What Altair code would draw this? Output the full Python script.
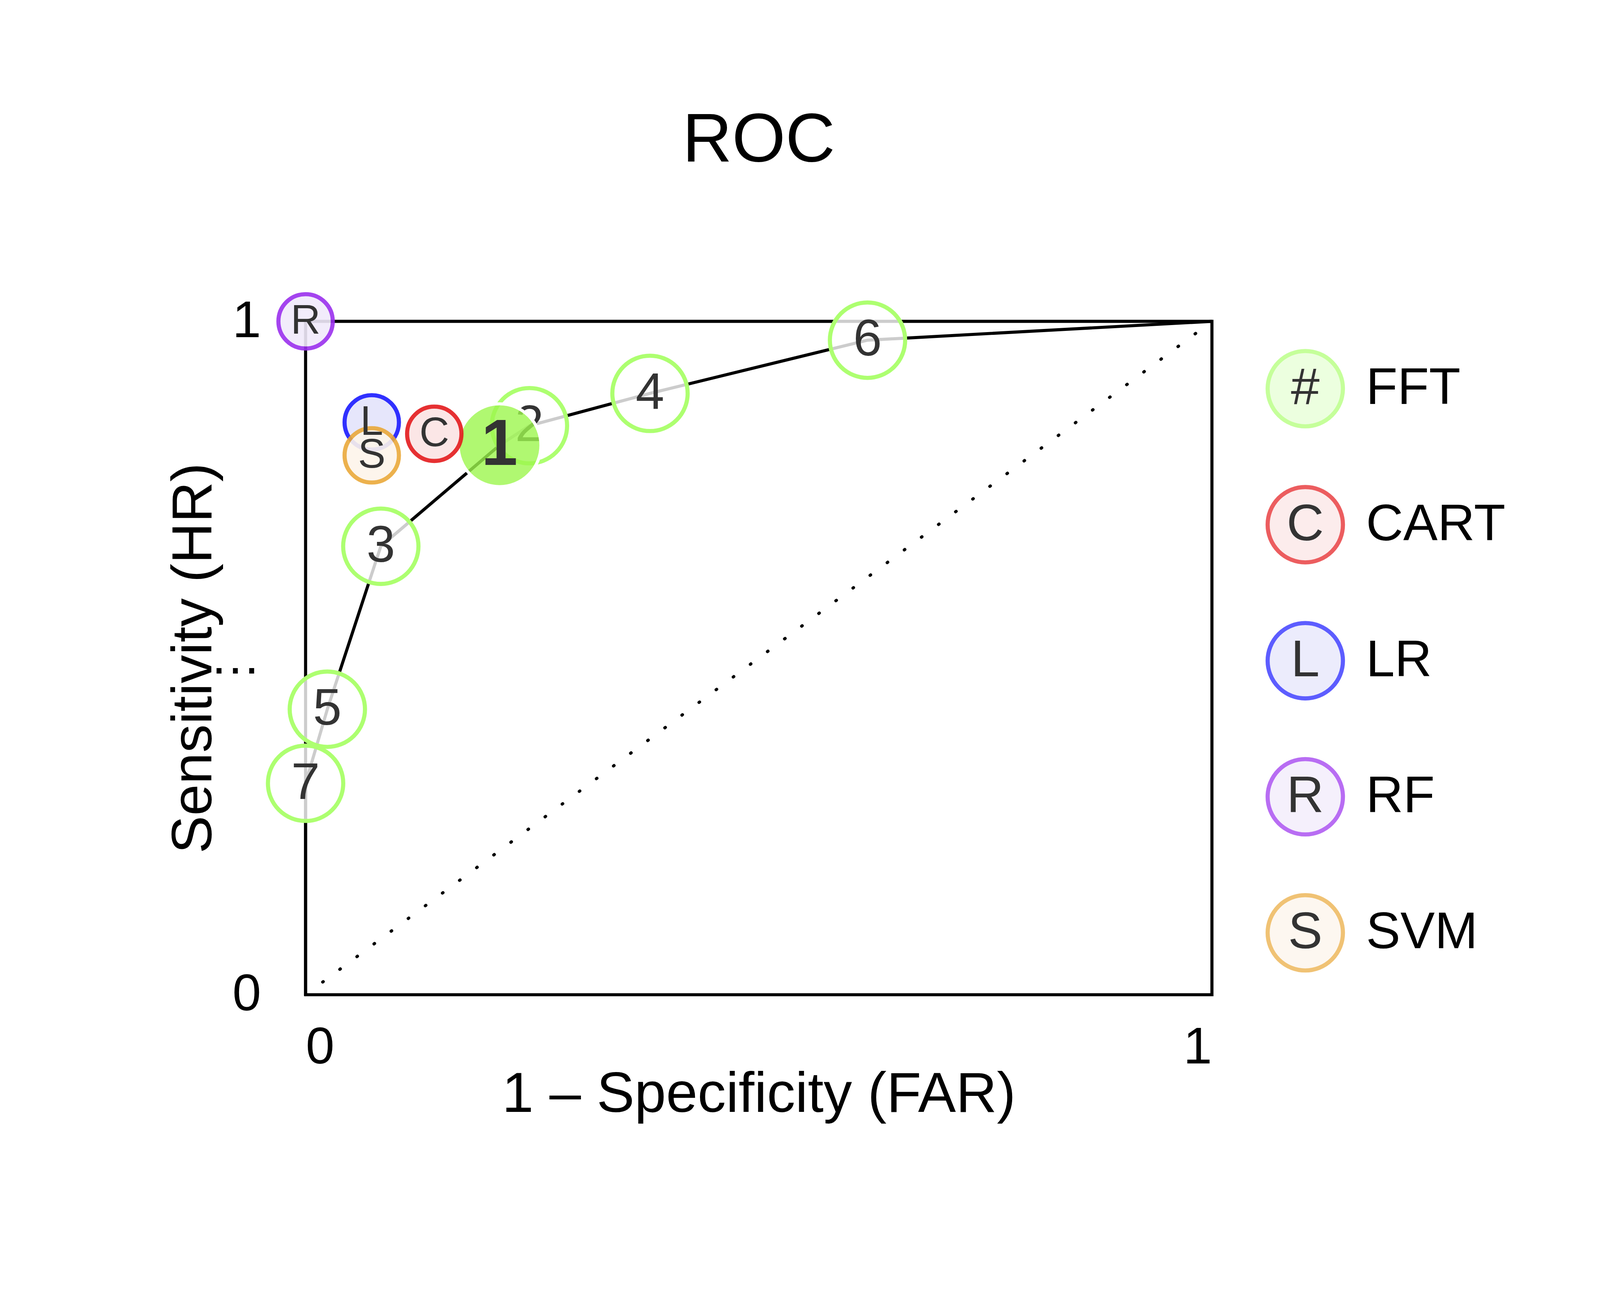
import altair as alt
import pandas as pd

fft_id = ["1", "2", "3", "4", "5", "6", "7"]
fft_far = [0.214, 0.247, 0.083, 0.380, 0.024, 0.620, 0.0]
fft_hr = [0.816, 0.845, 0.666, 0.893, 0.424, 0.972, 0.314]

mod_lab = ["C", "L", "R", "S"]
mod_far = [0.142, 0.073, 0.0, 0.073]
mod_hr = [0.833, 0.850, 1.0, 0.801]
mod_stroke = ["#e41a1c", "#1a1aff", "#9b30ee", "#eaa93a"]
mod_fill = ["#fbe4e4", "#e4e4fb", "#f1eafb", "#fdf5ea"]

leg_sym = ["#", "C", "L", "R", "S"]
leg_name = ["FFT", "CART", "LR", "RF", "SVM"]
leg_stroke = ["#adff70", "#e41a1c", "#1a1aff", "#9b30ee", "#eaa93a"]
leg_fill = ["#e4ffd2", "#fbe4e4", "#e4e4fb", "#f1eafb", "#fdf5ea"]
leg_y = [0.900, 0.698, 0.496, 0.294, 0.092]

fft = pd.DataFrame({"id": fft_id, "far": fft_far, "hr": fft_hr})
order = sorted(zip(fft_far, fft_hr))
curve = pd.DataFrame({"far": [0.0] + [a for a, b in order] + [1.0],
                      "hr": [0.0] + [b for a, b in order] + [1.0],
                      "o": list(range(len(order) + 2))})
mods = pd.DataFrame({"lab": mod_lab, "far": mod_far, "hr": mod_hr,
                     "s": mod_stroke, "f": mod_fill})
leg = pd.DataFrame({"sym": leg_sym, "name": leg_name, "s": leg_stroke,
                    "f": leg_fill, "y": leg_y})
diag = pd.DataFrame({"far": [0.0, 1.0], "hr": [0.0, 1.0]})

FONT = "Liberation Sans"
xs = alt.Scale(domain=[0, 1], nice=False)
ys = alt.Scale(domain=[0, 1], nice=False)
X = alt.X("far:Q", scale=xs, title="1 \u2013 Specificity (FAR)",
          axis=alt.Axis(values=[0, 1], format="d",
                        ticks=False, domain=False, grid=False, labelFontSize=150,
                        labelPadding=80, titleFontSize=165, titlePadding=10,
                        titleFontWeight="normal", labelFont=FONT, titleFont=FONT,
                        labelColor="black", titleColor="black"))
Y = alt.Y("hr:Q", scale=ys, title="Sensitivity (HR)",
          axis=alt.Axis(values=[0, 0.5, 1], labelExpr="datum.value == 0.5 ? '0.5' : (datum.value == 0 ? '0' : '1')",
                        ticks=False, domain=False, grid=False, labelFontSize=150,
                        labelPadding=130, titleFontSize=165, titlePadding=40,
                        titleFontWeight="normal", labelFont=FONT, titleFont=FONT,
                        labelColor="black", titleColor="black"))

d = alt.Chart(diag).mark_line(color="black", strokeWidth=9, strokeDash=[2, 60], strokeCap="round").encode(x=X, y=Y)
line = alt.Chart(curve).mark_line(color="black", strokeWidth=9).encode(x=X, y=Y, order="o:Q")

fft_other = fft[fft.id != "1"]
fft_c = alt.Chart(fft_other).mark_point(shape="circle", filled=True, size=48000,
                                         fill="white", fillOpacity=0.8, stroke="#adff70",
                                         strokeWidth=12).encode(x=X, y=Y)
fft_t = alt.Chart(fft_other).mark_text(fontSize=150, font=FONT, color="#333333", baseline="middle").encode(x=X, y=Y, text="id:N")
best = fft[fft.id == "1"]
best_c = alt.Chart(best).mark_point(shape="circle", filled=True, size=58000, fill="#9cf64e",
                                    fillOpacity=0.8, stroke="white", strokeWidth=9).encode(x=X, y=Y)
best_t = alt.Chart(best).mark_text(fontSize=190, font=FONT, fontWeight="bold", color="#333333", baseline="middle").encode(x=X, y=Y, text="id:N")

mc = alt.Chart(mods).mark_point(shape="circle", filled=True, size=25000, strokeWidth=12, opacity=0.9).encode(
    x=X, y=Y, fill=alt.Fill("f:N", scale=None), stroke=alt.Stroke("s:N", scale=None))
mt = alt.Chart(mods).mark_text(fontSize=120, font=FONT, color="#333333", baseline="middle").encode(x=X, y=Y, text="lab:N")

lc = alt.Chart(leg).mark_point(shape="circle", filled=True, size=48000, strokeWidth=12).encode(
    x=alt.datum(1.103, scale=xs), y=alt.Y("y:Q", scale=ys),
    fill=alt.Fill("f:N", scale=None), stroke=alt.Stroke("s:N", scale=None))
lt = alt.Chart(leg).mark_text(fontSize=150, font=FONT, color="#333333", baseline="middle").encode(
    x=alt.datum(1.103, scale=xs), y=alt.Y("y:Q", scale=ys), text="sym:N")
ln = alt.Chart(leg).mark_text(fontSize=150, font=FONT, color="black", baseline="middle", align="left").encode(
    x=alt.datum(1.17, scale=xs), y=alt.Y("y:Q", scale=ys), text="name:N")

chart = alt.layer(d, line, fft_c, fft_t, best_c, best_t, mc, mt, lc, lt, ln).properties(
    width=2637, height=1959,
    title=alt.TitleParams("ROC", fontSize=200, font=FONT, fontWeight="normal", offset=320, color="black"),
    autosize=alt.AutoSizeParams(type="none"),
    padding={"left": 880, "top": 703, "right": 1120, "bottom": 600},
).configure_view(stroke="black", strokeWidth=9).configure(background="white") if False else alt.layer(
    d, line, fft_c, fft_t, best_c, best_t, mc, mt, lc, lt, ln).properties(
    width=2637, height=1959,
    title=alt.TitleParams("ROC", fontSize=200, font=FONT, fontWeight="normal", offset=320, color="black"),
    autosize=alt.AutoSizeParams(type="none"),
    padding={"left": 880, "top": 703, "right": 1120, "bottom": 600},
    background="white",
).configure_view(stroke="black", strokeWidth=9)

chart.save("out.html", embed_options={"renderer": "svg", "actions": False})
